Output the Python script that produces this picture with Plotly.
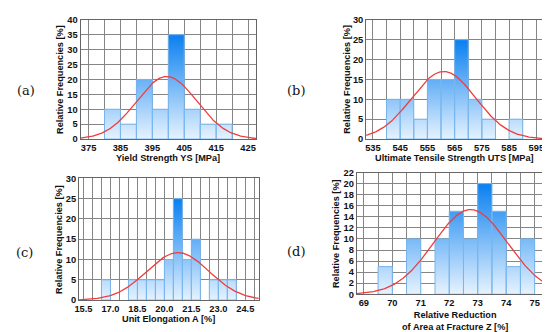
import numpy as np
import plotly.graph_objects as go

# ---------------- data ----------------
# (a) Yield strength
ys_bins = [380, 385, 390, 395, 400, 405, 410, 415]
ys_freq = [10, 5, 20, 10, 35, 10, 5, 5]
ys_width = 5
ys_fit = dict(mean=399.5, sd=9.4, peak=21.0)

# (b) Ultimate tensile strength
uts_bins = [540, 545, 550, 555, 560, 565, 570, 575, 580, 585]
uts_freq = [10, 10, 5, 15, 15, 25, 10, 5, 0, 5]
uts_width = 5
uts_fit = dict(mean=561.0, sd=11.8, peak=17.0)

# (c) Unit elongation
a_bins = [16.5, 17.0, 17.5, 18.0, 18.5, 19.0, 19.5, 20.0, 20.5, 21.0, 21.5, 22.0, 22.5, 23.0, 23.5]
a_freq = [5, 0, 0, 5, 5, 5, 5, 10, 25, 10, 15, 0, 5, 5, 5]
a_width = 0.5
a_fit = dict(mean=20.75, sd=1.73, peak=11.7)

# (d) Relative reduction of area
z_bins = [69.5, 70.0, 70.5, 71.0, 71.5, 72.0, 72.5, 73.0, 73.5, 74.0, 74.5]
z_freq = [5, 0, 10, 0, 10, 15, 10, 20, 15, 5, 10]
z_width = 0.5
z_fit = dict(mean=72.75, sd=1.30, peak=15.3)

x_titles = ["Yield Strength YS [MPa]",
            "Ultimate Tensile Strength UTS [MPa]",
            "Unit Elongation A [%]",
            "Relative Reduction<br>of Area at Fracture Z [%]"]
y_title = "Relative Frequencies [%]"
panel_labels = ["(a)", "(b)", "(c)", "(d)"]

# ---------------- style / layout ----------------
W, H = 550, 332
LIGHT = "#eef7ff"
DARK = "#0a80f0"
EDGE = "#78b6ee"
GRID = "#858585"
FRAME = "#666666"
CURVE = "#f03c3c"
FAM = "Liberation Sans, Arial, sans-serif"
TICKFONT = dict(family=FAM, size=9.3, color="#111", weight=700)
TITLEFONT = dict(family=FAM, size=9.2, color="#111", weight=700)

panels = [
    dict(bins=ys_bins, freq=ys_freq, w=ys_width, fit=ys_fit,
         px=(68.3, 245.7), py=(7, 130), xr=(372.5, 427.5), yr=(0, 40), ydt=5,
         xt0=375, xdt=10, xminor=5, xfmt="", lab=(13.5, 80), yt=(47.5, 68), xt=(157, 149.5)),
    dict(bins=uts_bins, freq=uts_freq, w=uts_width, fit=uts_fit,
         px=(357, 536), py=(7, 130), xr=(532.5, 597.5), yr=(0, 30), ydt=5,
         xt0=535, xdt=10, xminor=5, xfmt="", lab=(286, 80), yt=(337.5, 68), xt=(446.5, 149.5)),
    dict(bins=a_bins, freq=a_freq, w=a_width, fit=a_fit,
         px=(66.7, 248.5), py=(170.5, 296), xr=(15.25, 25.25), yr=(0, 30), ydt=5,
         xt0=15.5, xdt=1.5, xminor=0.5, xfmt=".1f", lab=(11.5, 247), yt=(46.5, 233), xt=(157.5, 316)),
    dict(bins=z_bins, freq=z_freq, w=z_width, fit=z_fit,
         px=(347.5, 549), py=(164.5, 290), xr=(68.75, 75.75), yr=(0, 22), ydt=2,
         xt0=69, xdt=1, xminor=0.5, xfmt="", lab=(286, 246), yt=(326.5, 227), xt=(447, 318)),
]

fig = go.Figure()
annotations = []

for i, p in enumerate(panels):
    k = "" if i == 0 else str(i + 1)
    xa, ya = "x" + k, "y" + k

    # histogram bars as filled polygons with a vertical gradient
    bx, by = [], []
    for left, v in zip(p["bins"], p["freq"]):
        if v <= 0:
            continue
        right = left + p["w"]
        bx += [left, left, right, right, left, None]
        by += [0, v, v, 0, 0, None]
    fig.add_trace(go.Scatter(
        x=bx, y=by, xaxis=xa, yaxis=ya, mode="lines", fill="toself",
        line=dict(color=EDGE, width=1),
        fillgradient=dict(type="vertical", colorscale=[[0, LIGHT], [1, DARK]],
                          start=0, stop=max(p["freq"])),
        hoverinfo="skip", showlegend=False))

    # fitted normal curve
    f = p["fit"]
    cx = np.linspace(p["xr"][0], p["xr"][1], 300)
    cy = f["peak"] * np.exp(-((cx - f["mean"]) ** 2) / (2 * f["sd"] ** 2))
    fig.add_trace(go.Scatter(x=cx, y=cy, xaxis=xa, yaxis=ya, mode="lines",
                             line=dict(color=CURVE, width=1.3), hoverinfo="skip",
                             showlegend=False))

    xdom = [p["px"][0] / W, p["px"][1] / W]
    ydom = [1 - p["py"][1] / H, 1 - p["py"][0] / H]
    fig.layout["xaxis" + k] = dict(
        domain=xdom, anchor=ya, range=list(p["xr"]), tick0=p["xt0"], dtick=p["xdt"],
        tickformat=p["xfmt"], showgrid=True, gridcolor=GRID, gridwidth=1,
        minor=dict(dtick=p["xminor"], tick0=p["xt0"], showgrid=True, gridcolor=GRID, gridwidth=1),
        showline=True, linecolor=FRAME, linewidth=1, mirror=True, ticks="",
        zeroline=False, tickfont=TICKFONT, fixedrange=True)
    fig.layout["yaxis" + k] = dict(
        domain=ydom, anchor=xa, range=list(p["yr"]), tick0=0, dtick=p["ydt"],
        showgrid=True, gridcolor=GRID, gridwidth=1,
        showline=True, linecolor=FRAME, linewidth=1, mirror=True, ticks="",
        zeroline=False, tickfont=TICKFONT, fixedrange=True)

    annotations.append(dict(text=panel_labels[i], x=p["lab"][0] / W, y=1 - p["lab"][1] / H,
                            xref="paper", yref="paper", showarrow=False,
                            xanchor="center", yanchor="middle",
                            font=dict(family="DejaVu Serif, serif", size=13, color="#111")))
    annotations.append(dict(text=y_title, x=p["yt"][0] / W, y=1 - p["yt"][1] / H,
                            xref="paper", yref="paper", showarrow=False, textangle=-90,
                            xanchor="center", yanchor="middle", font=TITLEFONT))
    annotations.append(dict(text=x_titles[i], x=p["xt"][0] / W, y=1 - p["xt"][1] / H,
                            xref="paper", yref="paper", showarrow=False,
                            xanchor="center", yanchor="middle", font=TITLEFONT))

fig.update_layout(width=W, height=H, margin=dict(l=0, r=0, t=0, b=0),
                  paper_bgcolor="white", plot_bgcolor="white",
                  showlegend=False, annotations=annotations)

fig.write_html("out.html")
